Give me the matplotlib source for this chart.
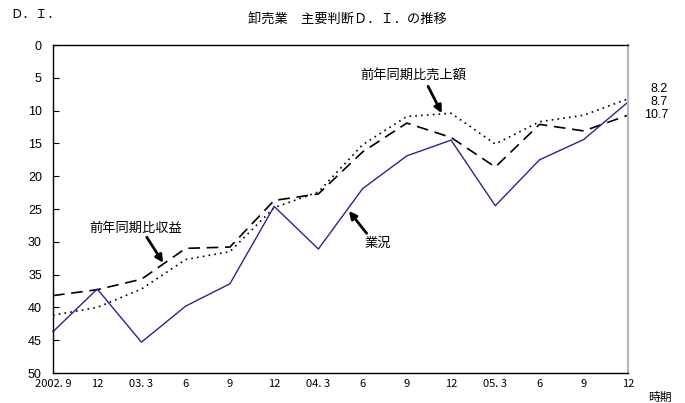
import matplotlib
matplotlib.use("Agg")
import matplotlib.pyplot as plt

# 時期（四半期）
periods = ["2002. 9", "12", "03. 3", "6", "9", "12", "04. 3", "6", "9", "12",
           "05. 3", "6", "9", "12"]

# 業況判断D.I.
gyokyo = [43.7, 37.2, 45.3, 39.8, 36.4, 24.6, 31.1, 21.9, 16.9, 14.5, 24.5, 17.5, 14.4, 8.7]
# 前年同期比収益
shueki = [38.2, 37.3, 35.7, 31.0, 30.8, 23.7, 22.7, 16.3, 11.9, 14.1, 18.6, 12.1, 13.1, 10.7]
# 前年同期比売上額
uriage = [41.2, 40.0, 37.2, 32.7, 31.5, 24.8, 22.4, 15.2, 10.9, 10.4, 15.1, 11.7, 10.7, 8.2]

y_ticks = list(range(0, 51, 5))

JP = ["Noto Sans CJK JP", "DejaVu Sans"]
NUM = ["Liberation Sans", "DejaVu Sans"]

W, H = 685, 403
fig = plt.figure(figsize=(W / 100, H / 100), dpi=100)
fig.patch.set_facecolor("white")

def fx(px):
    return px / W

def fy(py):
    return 1 - py / H

ax = fig.add_axes([fx(53), fy(373), fx(628) - fx(53), fy(45) - fy(373)])

x = list(range(len(periods)))
ax.plot(x, uriage, color="black", lw=1.2, linestyle=(0, (1, 2.5)), clip_on=False)
ax.plot(x, shueki, color="black", lw=1.2, linestyle=(0, (7, 4)), clip_on=False)
ax.plot(x, gyokyo, color="#25259a", lw=1.0, clip_on=False)

ax.set_xlim(0, len(periods) - 1)
ax.set_ylim(50, 0)
ax.set_yticks(y_ticks)
ax.set_yticklabels([str(v) for v in y_ticks], family=NUM, fontsize=9)
ax.tick_params(axis="y", direction="in", length=4, width=0.8, pad=8)
ax.set_xticks(x)
ax.set_xticklabels(periods, family=JP, fontsize=8)
ax.tick_params(axis="x", length=0, pad=4)

for side in ["left", "top", "bottom"]:
    ax.spines[side].set_color("black")
    ax.spines[side].set_linewidth(1.0)
ax.spines["right"].set_color("#b8b8b8")
ax.spines["right"].set_linewidth(1.6)

arrow = dict(arrowstyle="-|>", color="black", lw=2.0, mutation_scale=11,
             shrinkA=0, shrinkB=0)

# 前年同期比売上額
ax.annotate("", xy=(8.79, 10.4), xytext=(8.48, 6.3), arrowprops=arrow)
ax.text(8.14, 4.6, "前年同期比売上額", ha="center", va="center",
        family=JP, fontsize=9.5)

# 前年同期比収益
ax.annotate("", xy=(2.49, 33.2), xytext=(2.12, 29.3), arrowprops=arrow)
ax.text(1.87, 28.0, "前年同期比収益", ha="center", va="center",
        family=JP, fontsize=9.5)

# 業況
ax.annotate("", xy=(6.69, 25.3), xytext=(7.09, 28.7), arrowprops=arrow)
ax.text(7.35, 30.2, "業況", ha="center", va="center", family=JP, fontsize=9.5)

# 最新値（上から小さい順）
latest = sorted([uriage[-1], gyokyo[-1], shueki[-1]])
for i, v in enumerate(latest):
    fig.text(fx(668), fy(89 + 13 * i), f"{v:.1f}", ha="right", va="center",
             family=NUM, fontsize=9)

fig.text(fx(347), fy(20), "卸売業　主要判断Ｄ．Ｉ．の推移", ha="center", va="center",
         family=JP, fontsize=9.5)
fig.text(fx(10), fy(15), "Ｄ．Ｉ．", ha="left", va="center", family=JP, fontsize=9)
fig.text(fx(660), fy(397), "時期", ha="center", va="center", family=JP, fontsize=8.5)

fig.savefig("out.png", dpi=100, facecolor="white")
